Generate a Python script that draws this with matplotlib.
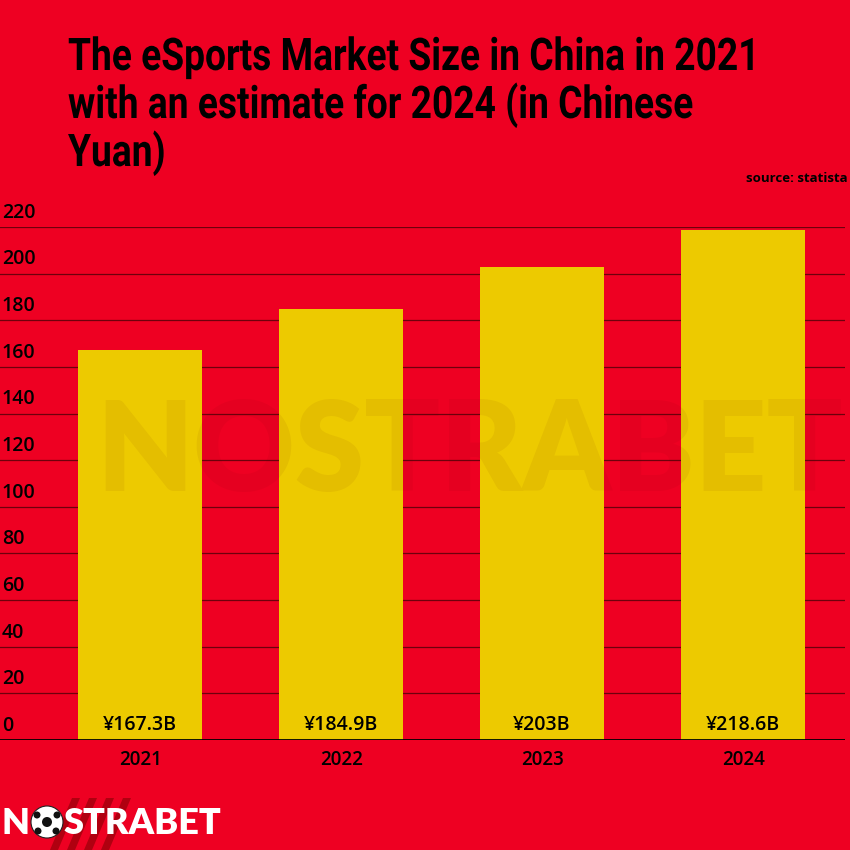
import matplotlib.pyplot as plt
import matplotlib.transforms as mtransforms
from matplotlib.textpath import TextPath
from matplotlib.font_manager import FontProperties
from matplotlib.patches import PathPatch, Circle, Polygon

years = ["2021", "2022", "2023", "2024"]
market_size = [167.3, 184.9, 203.0, 218.6]
value_labels = ["¥167.3B", "¥184.9B", "¥203B", "¥218.6B"]
y_ticks = [0, 20, 40, 60, 80, 100, 120, 140, 160, 180, 200, 220]
title_lines = ["The eSports Market Size in China in 2021",
               "with an estimate for 2024 (in Chinese",
               "Yuan)"]

bg = "#EE0022"
bar_color = "#EDCA00"
W = 850.0
tick_font = "Open Sans"

fig = plt.figure(figsize=(8.5, 8.5), dpi=100, facecolor=bg)
ax = fig.add_axes([0, 110 / W, 845 / W, 513 / W], facecolor=bg)

x = range(len(years))
ax.bar(x, market_size, width=0.617, color=bar_color, zorder=2)
ax.set_xlim(-0.697, 3.507)
ax.set_ylim(0, 220)

# grid lines
for v in y_ticks[1:]:
    ax.axhline(v, color="#6e000c", lw=0.9, zorder=1)
ax.axhline(0, color="black", lw=2, zorder=3)

for s in ax.spines.values():
    s.set_visible(False)
ax.set_yticks([])
ax.set_xticks(list(x))
ax.set_xticklabels(years, fontsize=13.5, fontfamily=tick_font, fontweight="semibold")
ax.tick_params(axis="x", length=0, pad=7)

# y tick labels sit above each grid line, inside the axes
offset = mtransforms.offset_copy(ax.transData, fig=fig, x=0, y=3, units="points")
blend = mtransforms.blended_transform_factory(ax.transAxes, offset)
for v in y_ticks:
    ax.text(0.002, v, str(v), transform=blend, ha="left", va="bottom",
            fontsize=14, fontfamily=tick_font, fontweight="semibold")

# value labels at the bottom of each bar
lab_tr = mtransforms.offset_copy(ax.transData, fig=fig, x=0, y=3.5, units="points")
for i, lab in enumerate(value_labels):
    ax.text(i, 0, lab, transform=lab_tr, ha="center", va="bottom", fontsize=14,
            fontfamily=tick_font, fontweight="semibold", zorder=4)

# faint watermark
fig.text(0.553, 1 - 455 / W, "NOSTRABET", ha="center", va="center", fontsize=90,
         fontweight="heavy", fontfamily="Lato", color="#5a0000", alpha=0.06)

# condensed bold title, drawn as squeezed text paths
fp = FontProperties(family="Roboto", weight="bold")
paths = [TextPath((0, 0), t, size=45, prop=fp) for t in title_lines]
sx = 684.0 / paths[0].get_extents().width
baselines = [70, 118, 166]
for p, yb in zip(paths, baselines):
    tr = mtransforms.Affine2D().scale(sx / W, 1 / W).translate(68 / W, 1 - yb / W) + fig.transFigure
    fig.add_artist(PathPatch(p, transform=tr, facecolor="black", edgecolor="none"))

fig.text(848 / W, 1 - 179 / W, "source: statista", ha="right", va="center",
         fontsize=9.5, fontweight="bold", fontfamily=tick_font)

# logo: stripes, "N", ball, "STRABET"
for k in range(4):
    x0 = 50 + k * 17
    fig.add_artist(Polygon([((x0) / W, 0), ((x0 + 8) / W, 0),
                            ((x0 + 8 + 22) / W, 52 / W), ((x0 + 22) / W, 52 / W)],
                           closed=True, transform=fig.transFigure,
                           facecolor="#b00010", edgecolor="none"))
fig.text(2 / W, 1 - 824 / W, "N", ha="left", va="center", fontsize=26,
         fontweight="heavy", fontfamily="Lato", color="white")
fig.add_artist(Circle((47 / W, 1 - 822 / W), 16 / W, transform=fig.transFigure,
                      facecolor="white", edgecolor="#222222", lw=0.8))
for (dx, dy, r) in [(0, 0, 5), (-10, 7, 3.5), (10, 7, 3.5), (-9, -9, 3.5), (9, -9, 3.5)]:
    fig.add_artist(Circle(((47 + dx) / W, 1 - (822 - dy) / W), r / W,
                          transform=fig.transFigure, facecolor="#111111", edgecolor="none"))
fig.text(64 / W, 1 - 824 / W, "STRABET", ha="left", va="center", fontsize=26,
         fontweight="heavy", fontfamily="Lato", color="white")

plt.savefig("out.png", dpi=100, facecolor=bg)
